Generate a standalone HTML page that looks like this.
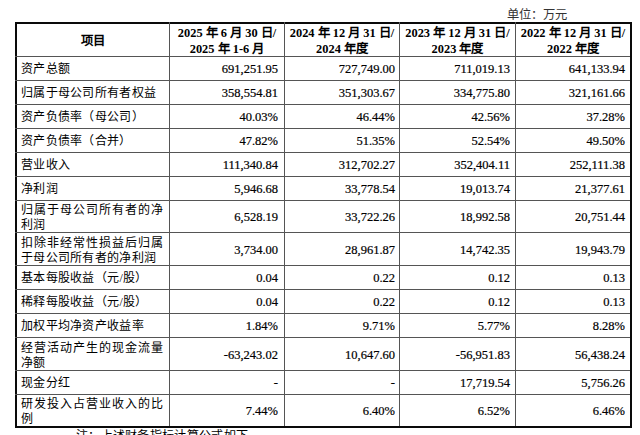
<!DOCTYPE html>
<html lang="zh-CN"><head><meta charset="utf-8"><style>
html,body{margin:0;padding:0;background:#fff;}
body{width:640px;height:435px;overflow:hidden;position:relative;font-family:"Liberation Serif",serif;color:#000;}
.l{position:absolute;}
.o{background:#0a0a0a;}
.i{background:#555;}
.hd{position:absolute;white-space:nowrap;padding-top:2px;box-sizing:border-box;display:flex;align-items:center;justify-content:center;text-align:center;font-weight:bold;font-size:12.4px;line-height:16px;color:#000;}
.lb{position:absolute;box-sizing:border-box;padding-top:2px;left:21px;width:142px;display:flex;align-items:center;font-size:12px;letter-spacing:0.3px;line-height:15px;white-space:nowrap;}
.lb.two{padding-top:3px;}
.lb .j{display:inline-block;width:142px;text-align:justify;text-align-last:justify;}
.nm{position:absolute;box-sizing:border-box;padding-top:2px;-webkit-text-stroke:0.2px #000;display:flex;align-items:center;justify-content:flex-end;font-size:12.5px;white-space:nowrap;}
.unit{position:absolute;left:507px;top:7px;color:#333;font-size:12.3px;line-height:16px;}
.foot{position:absolute;left:76px;top:428px;font-size:12px;letter-spacing:0.3px;line-height:16px;white-space:nowrap;}
</style></head>
<body>
<div class="unit">单位：万元</div>
<div class="l o" style="left:15px;top:22px;width:617px;height:2px"></div><div class="l o" style="left:15px;top:426px;width:617px;height:2px"></div><div class="l o" style="left:15px;top:22px;width:2px;height:406px"></div><div class="l o" style="left:630px;top:22px;width:2px;height:406px"></div><div class="l i" style="left:169px;top:22px;width:1px;height:404px"></div><div class="l i" style="left:284px;top:22px;width:1px;height:404px"></div><div class="l i" style="left:399px;top:22px;width:1px;height:404px"></div><div class="l i" style="left:515px;top:22px;width:1px;height:404px"></div><div class="l i" style="left:15px;top:56px;width:615px;height:1px"></div><div class="l i" style="left:15px;top:80px;width:615px;height:1px"></div><div class="l i" style="left:15px;top:104px;width:615px;height:1px"></div><div class="l i" style="left:15px;top:128px;width:615px;height:1px"></div><div class="l i" style="left:15px;top:152px;width:615px;height:1px"></div><div class="l i" style="left:15px;top:176px;width:615px;height:1px"></div><div class="l i" style="left:15px;top:200px;width:615px;height:1px"></div><div class="l i" style="left:15px;top:232px;width:615px;height:1px"></div><div class="l i" style="left:15px;top:265px;width:615px;height:1px"></div><div class="l i" style="left:15px;top:289px;width:615px;height:1px"></div><div class="l i" style="left:15px;top:313px;width:615px;height:1px"></div><div class="l i" style="left:15px;top:337px;width:615px;height:1px"></div><div class="l i" style="left:15px;top:370px;width:615px;height:1px"></div><div class="l i" style="left:15px;top:394px;width:615px;height:1px"></div><div class="hd" style="left:17px;top:24px;width:152px;height:32px"><span>项目</span></div><div class="hd" style="left:170px;top:24px;width:114px;height:32px"><span>2025 年 6 月 30 日/<br>2025 年 1-6 月</span></div><div class="hd" style="left:285px;top:24px;width:114px;height:32px"><span>2024 年 12 月 31 日/<br>2024 年度</span></div><div class="hd" style="left:400px;top:24px;width:115px;height:32px"><span>2023 年 12 月 31 日/<br>2023 年度</span></div><div class="hd" style="left:516px;top:24px;width:114px;height:32px"><span>2022 年 12 月 31 日/<br>2022 年度</span></div><div class="lb" style="top:57px;height:23px"><span>资产总额</span></div><div class="nm" style="top:57px;height:23px;left:170px;width:108px">691,251.95</div><div class="nm" style="top:57px;height:23px;left:285px;width:110px">727,749.00</div><div class="nm" style="top:57px;height:23px;left:400px;width:110px">711,019.13</div><div class="nm" style="top:57px;height:23px;left:516px;width:109px">641,133.94</div><div class="lb" style="top:81px;height:23px"><span>归属于母公司所有者权益</span></div><div class="nm" style="top:81px;height:23px;left:170px;width:108px">358,554.81</div><div class="nm" style="top:81px;height:23px;left:285px;width:110px">351,303.67</div><div class="nm" style="top:81px;height:23px;left:400px;width:110px">334,775.80</div><div class="nm" style="top:81px;height:23px;left:516px;width:109px">321,161.66</div><div class="lb" style="top:105px;height:23px"><span>资产负债率（母公司）</span></div><div class="nm" style="top:105px;height:23px;left:170px;width:108px">40.03%</div><div class="nm" style="top:105px;height:23px;left:285px;width:110px">46.44%</div><div class="nm" style="top:105px;height:23px;left:400px;width:110px">42.56%</div><div class="nm" style="top:105px;height:23px;left:516px;width:109px">37.28%</div><div class="lb" style="top:129px;height:23px"><span>资产负债率（合并）</span></div><div class="nm" style="top:129px;height:23px;left:170px;width:108px">47.82%</div><div class="nm" style="top:129px;height:23px;left:285px;width:110px">51.35%</div><div class="nm" style="top:129px;height:23px;left:400px;width:110px">52.54%</div><div class="nm" style="top:129px;height:23px;left:516px;width:109px">49.50%</div><div class="lb" style="top:153px;height:23px"><span>营业收入</span></div><div class="nm" style="top:153px;height:23px;left:170px;width:108px">111,340.84</div><div class="nm" style="top:153px;height:23px;left:285px;width:110px">312,702.27</div><div class="nm" style="top:153px;height:23px;left:400px;width:110px">352,404.11</div><div class="nm" style="top:153px;height:23px;left:516px;width:109px">252,111.38</div><div class="lb" style="top:177px;height:23px"><span>净利润</span></div><div class="nm" style="top:177px;height:23px;left:170px;width:108px">5,946.68</div><div class="nm" style="top:177px;height:23px;left:285px;width:110px">33,778.54</div><div class="nm" style="top:177px;height:23px;left:400px;width:110px">19,013.74</div><div class="nm" style="top:177px;height:23px;left:516px;width:109px">21,377.61</div><div class="lb two" style="top:201px;height:31px"><span><span class="j">归属于母公司所有者的净</span><br>利润</span></div><div class="nm" style="top:201px;height:31px;left:170px;width:108px">6,528.19</div><div class="nm" style="top:201px;height:31px;left:285px;width:110px">33,722.26</div><div class="nm" style="top:201px;height:31px;left:400px;width:110px">18,992.58</div><div class="nm" style="top:201px;height:31px;left:516px;width:109px">20,751.44</div><div class="lb two" style="top:233px;height:32px"><span><span class="j">扣除非经常性损益后归属</span><br>于母公司所有者的净利润</span></div><div class="nm" style="top:233px;height:32px;left:170px;width:108px">3,734.00</div><div class="nm" style="top:233px;height:32px;left:285px;width:110px">28,961.87</div><div class="nm" style="top:233px;height:32px;left:400px;width:110px">14,742.35</div><div class="nm" style="top:233px;height:32px;left:516px;width:109px">19,943.79</div><div class="lb" style="top:266px;height:23px"><span>基本每股收益（元/股）</span></div><div class="nm" style="top:266px;height:23px;left:170px;width:108px">0.04</div><div class="nm" style="top:266px;height:23px;left:285px;width:110px">0.22</div><div class="nm" style="top:266px;height:23px;left:400px;width:110px">0.12</div><div class="nm" style="top:266px;height:23px;left:516px;width:109px">0.13</div><div class="lb" style="top:290px;height:23px"><span>稀释每股收益（元/股）</span></div><div class="nm" style="top:290px;height:23px;left:170px;width:108px">0.04</div><div class="nm" style="top:290px;height:23px;left:285px;width:110px">0.22</div><div class="nm" style="top:290px;height:23px;left:400px;width:110px">0.12</div><div class="nm" style="top:290px;height:23px;left:516px;width:109px">0.13</div><div class="lb" style="top:314px;height:23px"><span>加权平均净资产收益率</span></div><div class="nm" style="top:314px;height:23px;left:170px;width:108px">1.84%</div><div class="nm" style="top:314px;height:23px;left:285px;width:110px">9.71%</div><div class="nm" style="top:314px;height:23px;left:400px;width:110px">5.77%</div><div class="nm" style="top:314px;height:23px;left:516px;width:109px">8.28%</div><div class="lb two" style="top:338px;height:32px"><span><span class="j">经营活动产生的现金流量</span><br>净额</span></div><div class="nm" style="top:338px;height:32px;left:170px;width:108px">-63,243.02</div><div class="nm" style="top:338px;height:32px;left:285px;width:110px">10,647.60</div><div class="nm" style="top:338px;height:32px;left:400px;width:110px">-56,951.83</div><div class="nm" style="top:338px;height:32px;left:516px;width:109px">56,438.24</div><div class="lb" style="top:371px;height:23px"><span>现金分红</span></div><div class="nm" style="top:371px;height:23px;left:170px;width:108px">-</div><div class="nm" style="top:371px;height:23px;left:285px;width:110px">-</div><div class="nm" style="top:371px;height:23px;left:400px;width:110px">17,719.54</div><div class="nm" style="top:371px;height:23px;left:516px;width:109px">5,756.26</div><div class="lb two" style="top:395px;height:31px"><span><span class="j">研发投入占营业收入的比</span><br>例</span></div><div class="nm" style="top:395px;height:31px;left:170px;width:108px">7.44%</div><div class="nm" style="top:395px;height:31px;left:285px;width:110px">6.40%</div><div class="nm" style="top:395px;height:31px;left:400px;width:110px">6.52%</div><div class="nm" style="top:395px;height:31px;left:516px;width:109px">6.46%</div>
<div class="foot">注：上述财务指标计算公式如下</div>
</body></html>
